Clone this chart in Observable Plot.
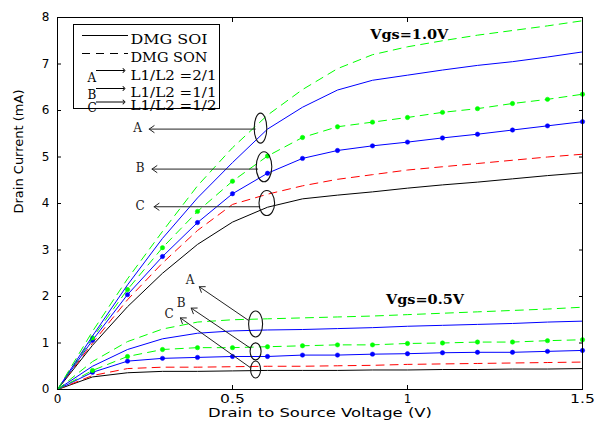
<!DOCTYPE html>
<html><head><meta charset="utf-8">
<script src="https://cdn.jsdelivr.net/npm/d3@7"></script>
<script src="https://cdn.jsdelivr.net/npm/@observablehq/plot@0.6"></script>
<style>
body{margin:0;background:#fff;}
#chart{width:595px;height:423px;}
</style></head><body><div id="chart"></div>
<script>
// Drain-to-source voltage (V)
const vds = [0,0.1,0.2,0.3,0.4,0.5,0.6,0.7,0.8,0.9,1.0,1.1,1.2,1.3,1.4,1.5];

// Vgs = 1.0 V, drain current (mA)
const soiA10 = [0,1.15,2.25,3.25,4.12,4.88,5.6,6.07,6.44,6.65,6.76,6.87,6.97,7.05,7.15,7.26];
const sonA10 = [0,1.25,2.38,3.4,4.38,5.2,5.9,6.45,6.9,7.2,7.37,7.5,7.62,7.72,7.82,7.93];
const soiB10 = [0,1.06,2.04,2.86,3.59,4.21,4.65,4.97,5.14,5.24,5.32,5.41,5.49,5.58,5.67,5.76];
const sonB10 = [0,1.11,2.15,3.05,3.83,4.48,5.02,5.42,5.65,5.75,5.85,5.96,6.04,6.15,6.24,6.35];
const soiC10 = [0,0.95,1.78,2.5,3.12,3.6,3.92,4.1,4.18,4.25,4.33,4.4,4.46,4.53,4.6,4.66];
const sonC10 = [0,1.0,1.93,2.72,3.42,3.98,4.2,4.38,4.52,4.62,4.72,4.79,4.86,4.93,5.0,5.06];

// Vgs = 0.5 V, drain current (mA)
const soiA05 = [0,0.5,0.86,1.09,1.21,1.26,1.28,1.29,1.31,1.33,1.36,1.38,1.4,1.42,1.45,1.47];
const sonA05 = [0,0.6,1.03,1.3,1.45,1.5,1.52,1.54,1.56,1.58,1.61,1.64,1.67,1.7,1.73,1.77];
const soiB05 = [0,0.37,0.61,0.67,0.69,0.71,0.71,0.74,0.74,0.76,0.77,0.79,0.80,0.80,0.82,0.84];
const sonB05 = [0,0.41,0.71,0.86,0.9,0.9,0.92,0.94,0.96,0.96,0.99,1.0,1.02,1.02,1.05,1.07];
const soiC05 = [0,0.27,0.36,0.39,0.39,0.4,0.41,0.41,0.41,0.42,0.42,0.43,0.43,0.44,0.44,0.45];
const sonC05 = [0,0.3,0.45,0.48,0.48,0.49,0.5,0.5,0.51,0.52,0.54,0.55,0.56,0.57,0.58,0.59];

// Tick values and texts
const xTicks = [0,0.5,1,1.5];
const yTicks = [0,1,2,3,4,5,6,7,8];
const xTitle = "Drain to Source Voltage (V)";
const yTitle = "Drain Current (mA)";
const legendNames = ["DMG SOI","DMG SON"];
const ratioLetters = ["A","B","C"];
const ratioTexts = ["L1/L2 =2/1","L1/L2 =1/1","L1/L2 =1/2"];
const vgsLabels = ["Vgs=1.0V","Vgs=0.5V"];
const vgsLabelX = [1.005,1.05];
const vgsLabelY = [7.62,1.93];

// Annotation callouts (data coordinates): ellipse centres, arrow ends, label spots
const calloutLetters = ["A","B","C","A","B","C"];
const ellipseX = [0.580,0.590,0.598,0.566,0.566,0.566];
const ellipseY = [5.62,4.79,4.01,1.41,0.82,0.43];
const ellipseRx = [6.3,7.8,7.8,7,5.5,5];
const ellipseRy = [15,15,12.5,13,8.5,8.5];
const arrowFromX = [0.565,0.572,0.578,0.545,0.551,0.551];
const arrowFromY = [5.60,4.74,3.93,1.49,0.89,0.47];
const arrowToX = [0.262,0.270,0.276,0.405,0.382,0.351];
const arrowToY = [5.60,4.74,3.93,2.21,1.75,1.54];
const labelX = [0.229,0.236,0.236,0.379,0.353,0.319];
const labelY = [5.61,4.75,3.95,2.36,1.86,1.61];

const GREEN = "#00ff00", BLUE = "#0000ff", RED = "#ff0000", BLACK = "#000000";
const DASH = "8,6";

const curves = [
  {v: soiC10, stroke: BLACK, dash: null, dots: false},
  {v: sonC10, stroke: RED, dash: DASH, dots: false},
  {v: soiB10, stroke: BLUE, dash: null, dots: true},
  {v: sonB10, stroke: GREEN, dash: DASH, dots: true},
  {v: soiA10, stroke: BLUE, dash: null, dots: false},
  {v: sonA10, stroke: GREEN, dash: DASH, dots: false},
  {v: soiC05, stroke: BLACK, dash: null, dots: false},
  {v: sonC05, stroke: RED, dash: DASH, dots: false},
  {v: soiB05, stroke: BLUE, dash: null, dots: true},
  {v: sonB05, stroke: GREEN, dash: DASH, dots: true},
  {v: soiA05, stroke: BLUE, dash: null, dots: false},
  {v: sonA05, stroke: GREEN, dash: DASH, dots: false}
];

function ellipseSymbol(rx, ry) {
  const k = 0.5523;
  return {draw(ctx) {
    ctx.moveTo(rx, 0);
    ctx.bezierCurveTo(rx, ry * k, rx * k, ry, 0, ry);
    ctx.bezierCurveTo(-rx * k, ry, -rx, ry * k, -rx, 0);
    ctx.bezierCurveTo(-rx, -ry * k, -rx * k, -ry, 0, -ry);
    ctx.bezierCurveTo(rx * k, -ry, rx, -ry * k, rx, 0);
    ctx.closePath();
  }};
}

const curveMarks = curves.flatMap(c => {
  const rows = vds.map((x, i) => ({x, y: c.v[i]}));
  const m = [Plot.line(rows, {x: "x", y: "y", stroke: c.stroke, strokeWidth: 1, strokeDasharray: c.dash})];
  if (c.dots) m.push(Plot.dot(rows.filter(d => d.x > 0), {x: "x", y: "y", r: 2.2, fill: c.stroke, stroke: c.stroke, strokeWidth: 0.5}));
  return m;
});

const callouts = calloutLetters.map((t, i) => ({
  t, ex: ellipseX[i], ey: ellipseY[i], x1: arrowFromX[i], y1: arrowFromY[i], x2: arrowToX[i], y2: arrowToY[i], lx: labelX[i], ly: labelY[i]
}));

const calloutMarks = [
  Plot.arrow(callouts, {x1: "x1", y1: "y1", x2: "x2", y2: "y2", stroke: "#222", strokeWidth: 1, headLength: 9, headAngle: 70}),
  ...callouts.map((c, i) => Plot.dot([c], {x: "ex", y: "ey", symbol: ellipseSymbol(ellipseRx[i], ellipseRy[i]), fill: "none", stroke: "#111", strokeWidth: 1.1})),
  Plot.text(callouts, {x: "lx", y: "ly", text: "t", fontFamily: "DejaVu Serif", fontSize: 12, fill: "#222"})
];

// Legend box (inside the frame, top-left), pixel offsets from frame top-left
const legendMarks = [
  Plot.frame({insetLeft: 16, insetTop: 7, insetRight: 363, insetBottom: 281, stroke: "black", fill: "white"}),
  Plot.ruleY([0], {dy: -354, insetLeft: 25, insetRight: 454, stroke: "black", strokeWidth: 1}),
  Plot.ruleY([0], {dy: -336, insetLeft: 25, insetRight: 454, stroke: "black", strokeWidth: 1, strokeDasharray: "8,6"}),
  Plot.text([legendNames[0]], {frameAnchor: "top-left", dx: 73, dy: 18, textAnchor: "start", fontFamily: "DejaVu Serif", fontSize: 12}),
  Plot.text([legendNames[1]], {frameAnchor: "top-left", dx: 73, dy: 36, textAnchor: "start", fontFamily: "DejaVu Serif", fontSize: 12}),
  ...ratioLetters.map((t, i) => Plot.text([t], {frameAnchor: "top-left", dx: 30, dy: [55.5, 73, 86][i], fontFamily: "DejaVu Serif", fontSize: 12})),
  ...ratioLetters.map((t, i) => Plot.ruleY([0], {dy: [-319, -301, -287.5][i], insetLeft: 39, insetRight: 458, stroke: "black", strokeWidth: 1, markerEnd: "arrow"})),
  ...ratioTexts.map((t, i) => Plot.text([t], {frameAnchor: "top-left", dx: 73, dy: [54, 70.5, 84][i], textAnchor: "start", fontFamily: "DejaVu Serif", fontSize: 12}))
];

const plot = Plot.plot({
  width: 595, height: 423,
  marginLeft: 57, marginRight: 13, marginTop: 17, marginBottom: 34,
  style: {background: "white", color: "black", fontFamily: "DejaVu Sans", fontSize: "12px"},
  x: {domain: [0, 1.5], label: null},
  y: {domain: [0, 8], label: null},
  marks: [
    ...curveMarks,
    ...calloutMarks,
    Plot.text(vgsLabels, {x: (d, i) => vgsLabelX[i], y: (d, i) => vgsLabelY[i], text: d => d, fontFamily: "DejaVu Serif", fontWeight: "bold", fontSize: 13}),
    ...legendMarks,
    Plot.frame({stroke: "black"}),
    // inward ticks on all four sides
    Plot.axisX(xTicks, {anchor: "bottom", tickSize: 4, dy: -4, fill: "none", label: null}),
    Plot.axisX(xTicks, {anchor: "top", tickSize: 4, dy: 4, fill: "none", label: null}),
    Plot.axisY(yTicks, {anchor: "left", tickSize: 4, dx: 4, fill: "none", label: null}),
    Plot.axisY(yTicks, {anchor: "right", tickSize: 4, dx: -4, fill: "none", label: null}),
    // tick labels
    Plot.axisX(xTicks, {anchor: "bottom", tickSize: 0, tickPadding: 5, label: null, tickFormat: d => String(d), fontSize: 12}),
    Plot.axisY(yTicks, {anchor: "left", tickSize: 0, tickPadding: 8, label: null, tickFormat: d => String(d), fontSize: 12}),
    // axis titles
    Plot.text([xTitle], {frameAnchor: "bottom", dy: 27.5, text: d => d, fontSize: 13}),
    Plot.text([yTitle], {frameAnchor: "left", dx: -39, dy: 10, rotate: -90, text: d => d, fontSize: 13})
  ]
});

document.getElementById("chart").appendChild(plot);

// the reference typography is horizontally stretched; mimic it with textLength
const xTickTexts = xTicks.map(String);
plot.querySelectorAll("text").forEach(t => {
  const s = t.textContent;
  let w = null;
  if (legendNames.includes(s)) w = 77;
  else if (ratioTexts.includes(s)) w = 86;
  else if (vgsLabels.includes(s)) w = 78;
  else if (s === xTitle) w = 224;
  else if (xTickTexts.includes(s)) {
    const g = t.closest("g");
    if (g && g.getAttribute("text-anchor") !== "end" && s.length > 1) w = t.getComputedTextLength() * 1.3;
  }
  if (w != null) {
    t.setAttribute("textLength", w);
    t.setAttribute("lengthAdjust", "spacingAndGlyphs");
  }
});
</script>
</body></html>
